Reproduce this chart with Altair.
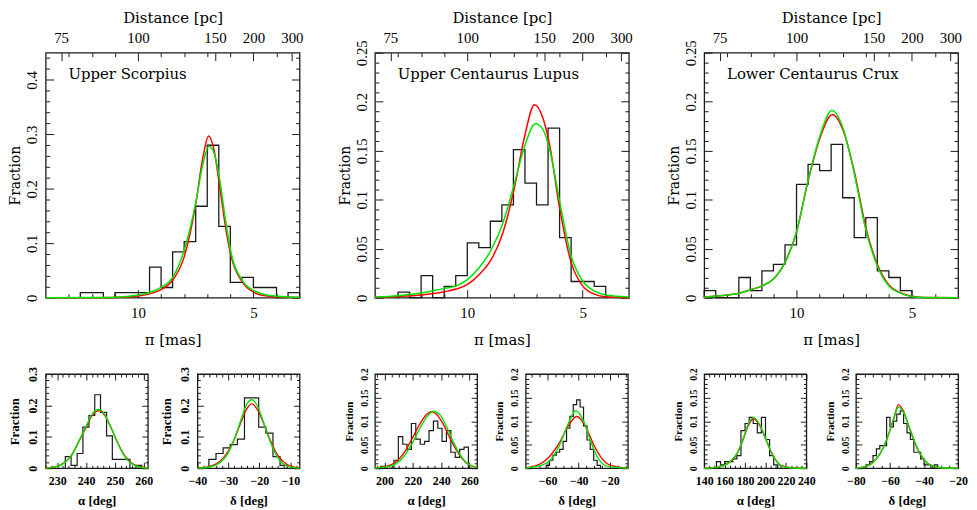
import altair as alt
import pandas as pd

SERIF = "DejaVu Serif"
NUM = "Liberation Serif"
RED = "#ff0000"
GREEN = "#00e400"
INK = "#1a1a1a"

# ---------------- shared axis values ----------------
DIST_PC = [75, 100, 150, 200, 300]
PLX_LABELS = [5, 10]
PLX_MINOR = [4, 6, 7, 8, 9, 11, 12, 13]

# ---------------- Upper Scorpius ----------------
US_NAME = "Upper Scorpius"
US_PLX_EDGE = [3.0, 3.5, 4.0, 4.5, 5.0, 5.5, 6.0, 6.5, 7.0, 7.5, 8.0, 8.5, 9.0, 9.5, 10.0, 10.5, 11.0, 11.5, 12.0, 12.5]
US_PLX_FRAC = [0.0093, 0.0, 0.0187, 0.0187, 0.0374, 0.028, 0.131, 0.280, 0.168, 0.103, 0.084, 0.0187, 0.056,
               0.0093, 0.0093, 0.0093, 0.0, 0.0093, 0.0093]
US_RED_PLX = [3.0, 3.46, 4.47, 4.97, 5.47, 5.97, 6.19, 6.48, 6.7, 6.94, 7.2, 7.5, 8.0, 8.5, 9.0, 9.5, 10.0, 11.0, 12.0, 14.0]
US_RED_FRAC = [0.0002, 0.0006, 0.0036, 0.0097, 0.028, 0.077, 0.125, 0.21, 0.27, 0.297, 0.255, 0.172, 0.075, 0.032,
               0.015, 0.007, 0.003, 0.0004, 0.0001, 0.0]
US_GRN_PLX = [3.0, 3.46, 4.47, 4.97, 5.47, 5.97, 6.19, 6.48, 6.7, 6.93, 7.2, 7.5, 8.0, 8.5, 9.0, 9.5, 10.0, 11.0, 12.0, 14.0]
US_GRN_FRAC = [0.0006, 0.0012, 0.0055, 0.0128, 0.031, 0.083, 0.137, 0.222, 0.265, 0.278, 0.243, 0.174, 0.087, 0.037,
               0.019, 0.0095, 0.005, 0.001, 0.0003, 0.0]

US_RA_EDGE = [232.8, 234.8, 236.9, 238.9, 241.0, 243.0, 245.0, 247.1, 249.1, 251.2, 253.2, 255.2, 257.3, 259.3]
US_RA_FRAC = [0.037, 0.009, 0.047, 0.131, 0.168, 0.234, 0.178, 0.103, 0.028, 0.028, 0.028, 0.0, 0.009]
US_RA_RED_X = [226, 229, 232, 235, 238, 240, 242, 244.3, 246.5, 248.5, 250.5, 253, 256, 259, 261.4]
US_RA_RED_F = [0.0008, 0.004, 0.015, 0.042, 0.094, 0.13, 0.167, 0.183, 0.168, 0.132, 0.09, 0.045, 0.015, 0.004, 0.001]
US_RA_GRN_X = [226, 229, 232, 235, 238, 240, 242, 244.3, 246.5, 248.5, 250.5, 253, 256, 259, 261.4]
US_RA_GRN_F = [0.0006, 0.0035, 0.014, 0.042, 0.096, 0.134, 0.171, 0.187, 0.171, 0.133, 0.089, 0.043, 0.013, 0.003,
               0.0008]

US_DE_EDGE = [-36.3, -34.0, -31.7, -29.4, -27.1, -24.8, -22.5, -20.2, -17.9, -15.6, -13.3, -11.0]
US_DE_FRAC = [0.028, 0.047, 0.065, 0.075, 0.093, 0.224, 0.224, 0.131, 0.112, 0.037, 0.009]
US_DE_RED_X = [-40, -36, -33, -30, -28, -26, -24, -22.4, -20.5, -18.5, -16.5, -14, -11, -7]
US_DE_RED_F = [0.001, 0.006, 0.02, 0.055, 0.095, 0.145, 0.19, 0.205, 0.185, 0.14, 0.09, 0.04, 0.012, 0.001]
US_DE_GRN_X = [-40, -36, -33, -30, -28, -26, -24, -22.4, -20.5, -18.5, -16.5, -14, -11, -7]
US_DE_GRN_F = [0.0005, 0.004, 0.016, 0.05, 0.095, 0.152, 0.205, 0.218, 0.196, 0.142, 0.085, 0.033, 0.007, 0.0005]

# ---------------- Upper Centaurus Lupus ----------------
UCL_NAME = "Upper Centaurus Lupus"
UCL_PLX_EDGE = [4.0, 4.5, 5.0, 5.5, 6.0, 6.5, 7.0, 7.5, 8.0, 8.5, 9.0, 9.5, 10.0, 10.5, 11.0, 11.5, 12.0, 12.5, 13.0]
UCL_PLX_FRAC = [0.0115, 0.0165, 0.0165, 0.0614, 0.173, 0.0948, 0.117, 0.151, 0.0948, 0.078, 0.051, 0.056,
                0.0226, 0.0115, 0.0, 0.0226, 0.0, 0.0057]
UCL_RED_PLX = [3.0, 3.99, 4.5, 5.0, 5.5, 6.01, 6.44, 6.73, 7.09, 7.52, 7.95, 8.46, 8.96, 9.47, 9.97, 10.48, 11.0,
               12.0, 13.0, 14.0]
UCL_RED_FRAC = [0.0, 0.001, 0.0037, 0.012, 0.036, 0.093, 0.157, 0.184, 0.197, 0.164, 0.113, 0.066, 0.039, 0.024,
                0.0138, 0.0088, 0.006, 0.0027, 0.0012, 0.0004]
UCL_GRN_PLX = [3.0, 3.99, 4.5, 5.0, 5.5, 6.01, 6.44, 6.73, 7.05, 7.52, 7.95, 8.46, 8.96, 9.47, 9.97, 10.48, 11.0,
               12.0, 13.0, 14.0]
UCL_GRN_FRAC = [0.0007, 0.0027, 0.007, 0.017, 0.0425, 0.1, 0.152, 0.172, 0.1775, 0.154, 0.117, 0.076, 0.049, 0.031,
                0.019, 0.012, 0.0095, 0.0047, 0.002, 0.0006]

UCL_RA_EDGE = [197.4, 200.5, 203.6, 206.7, 209.8, 212.9, 215.9, 219.0, 222.1, 225.2, 228.3, 231.4, 234.5, 237.6,
               240.6, 243.7, 246.8, 249.9, 253.0, 256.1, 259.2, 262.3]
UCL_RA_FRAC = [0.004, 0.0, 0.0, 0.017, 0.067, 0.051, 0.04, 0.095, 0.062, 0.051, 0.057, 0.08, 0.1, 0.085, 0.057,
               0.08, 0.034, 0.023, 0.04, 0.045, 0.0]
UCL_RA_RED_X = [193.3, 203.6, 208.7, 213.9, 219.0, 224.2, 229.3, 232.9, 236.5, 241.7, 246.8, 252.0, 257.1, 262.3,
                265.3]
UCL_RA_RED_F = [0.001, 0.006, 0.015, 0.033, 0.06, 0.09, 0.113, 0.12, 0.115, 0.092, 0.06, 0.032, 0.013, 0.004, 0.002]
UCL_RA_GRN_X = [193.3, 203.6, 208.7, 213.9, 219.0, 224.2, 229.3, 234.5, 238.6, 242.7, 247.9, 253.0, 258.1, 263.3,
                265.3]
UCL_RA_GRN_F = [0.001, 0.004, 0.011, 0.026, 0.05, 0.08, 0.107, 0.121, 0.115, 0.095, 0.06, 0.03, 0.011, 0.003, 0.002]

UCL_DE_EDGE = [-60.9, -58.7, -56.55, -54.4, -52.2, -50.0, -47.8, -45.65, -43.5, -41.3, -39.1, -36.9, -34.7, -32.6,
               -30.4, -28.2, -26.0]
UCL_DE_FRAC = [0.006, 0.017, 0.028, 0.034, 0.04, 0.057, 0.085, 0.11, 0.135, 0.145, 0.13, 0.09, 0.06, 0.04, 0.017,
               0.006]
UCL_DE_RED_X = [-74, -65.3, -58.7, -52.2, -46.7, -41.3, -35.8, -30.4, -24.9, -19.5, -8.5]
UCL_DE_RED_F = [0.001, 0.008, 0.025, 0.055, 0.09, 0.11, 0.09, 0.05, 0.02, 0.006, 0.0]
UCL_DE_GRN_X = [-74, -63.1, -57.6, -52.2, -46.7, -41.8, -36.9, -32.6, -28.2, -21.7, -8.5]
UCL_DE_GRN_F = [0.0005, 0.007, 0.02, 0.05, 0.095, 0.122, 0.1, 0.06, 0.025, 0.004, 0.0]

# ---------------- Lower Centaurus Crux ----------------
LCC_NAME = "Lower Centaurus Crux"
LCC_PLX_EDGE = [5.0, 5.5, 6.0, 6.5, 7.0, 7.5, 8.0, 8.5, 9.0, 9.5, 10.0, 10.5, 11.0, 11.5, 12.0, 12.5, 13.0, 13.5, 14.0]
LCC_PLX_FRAC = [0.0071, 0.0206, 0.0273, 0.0816, 0.0614, 0.102, 0.1565, 0.1296, 0.136, 0.1157, 0.054, 0.034,
                0.0273, 0.0071, 0.0206, 0.0, 0.0, 0.0071]
LCC_RED_PLX = [3.0, 4.5, 5.0, 5.5, 6.0, 6.5, 7.0, 7.5, 8.0, 8.45, 9.0, 9.5, 10.0, 10.5, 11.0, 11.5, 12.0, 12.5, 13.0, 14.0]
LCC_RED_FRAC = [0.0, 0.0003, 0.0014, 0.005, 0.013, 0.034, 0.072, 0.129, 0.172, 0.187, 0.162, 0.119, 0.067, 0.036,
                0.019, 0.012, 0.008, 0.0045, 0.0027, 0.0005]
LCC_GRN_PLX = [3.0, 4.5, 5.0, 5.5, 6.0, 6.5, 7.0, 7.5, 8.0, 8.47, 9.0, 9.5, 10.0, 10.5, 11.0, 11.5, 12.0, 12.5, 13.0, 14.0]
LCC_GRN_FRAC = [0.0, 0.0003, 0.0013, 0.0047, 0.012, 0.0324, 0.0695, 0.127, 0.174, 0.191, 0.164, 0.12, 0.067, 0.036,
                0.019, 0.012, 0.008, 0.0045, 0.0027, 0.0005]

LCC_RA_EDGE = [152, 156, 160, 164, 168, 172, 176, 180, 184, 188, 192, 196, 200, 204, 208, 212]
LCC_RA_FRAC = [0.014, 0.007, 0.014, 0.014, 0.02, 0.027, 0.08, 0.095, 0.108, 0.095, 0.075, 0.108, 0.061, 0.027,
               0.007]
LCC_RA_RED_X = [140, 155, 165, 172, 178, 183, 188.5, 194, 200, 205, 210, 215, 225, 240]
LCC_RA_RED_F = [0.0, 0.003, 0.013, 0.03, 0.06, 0.09, 0.105, 0.092, 0.063, 0.037, 0.018, 0.006, 0.001, 0.0]
LCC_RA_GRN_X = [140, 155, 165, 172, 178, 183, 188.5, 194, 200, 205, 210, 215, 225, 240]
LCC_RA_GRN_F = [0.0, 0.003, 0.013, 0.031, 0.062, 0.093, 0.108, 0.094, 0.064, 0.037, 0.017, 0.005, 0.001, 0.0]

LCC_DE_EDGE = [-74, -72, -70, -68, -66, -64, -62, -60, -58, -56, -54, -52, -50, -48, -46, -44, -42, -40, -38, -36,
               -34, -32]
LCC_DE_FRAC = [0.007, 0.014, 0.027, 0.041, 0.048, 0.048, 0.108, 0.088, 0.1, 0.115, 0.122, 0.095, 0.075, 0.061, 0.034,
               0.034, 0.02, 0.007, 0.007, 0.0, 0.007]
LCC_DE_RED_X = [-80, -74, -70, -66, -62, -58, -55, -52, -48, -44, -40, -36, -30, -20]
LCC_DE_RED_F = [0.0, 0.004, 0.013, 0.03, 0.06, 0.103, 0.135, 0.12, 0.08, 0.042, 0.018, 0.006, 0.001, 0.0]
LCC_DE_GRN_X = [-80, -74, -70, -66, -62, -58, -55, -52, -48, -44, -40, -36, -30, -20]
LCC_DE_GRN_F = [0.0, 0.004, 0.012, 0.03, 0.06, 0.103, 0.13, 0.118, 0.08, 0.043, 0.018, 0.006, 0.001, 0.0]


def step_df(edges, fracs):
    xs = [edges[0]] + list(edges[:-1]) + [edges[-1]]
    fs = [0.0] + list(fracs) + [0.0]
    return pd.DataFrame({"x": xs, "f": fs, "i": list(range(len(xs)))})


def tick_size(test, major, minor):
    return {"condition": {"test": test, "value": major}, "value": minor}


def mult_test(step):
    return f"abs(datum.value/{step} - round(datum.value/{step})) < 1e-6"


def yticks(ymax, step):
    n = int(round(ymax / step))
    return [round(k * step, 5) for k in range(n + 1)]


def main_panel(name, edges, fracs, rp, rf, gp, gf, ymax, ylabels, ystep, ymajor):
    W, H = 256, 247
    xs = alt.Scale(domain=[3, 14], reverse=True, nice=False, zero=False)
    ys = alt.Scale(domain=[0, ymax], nice=False, zero=False)
    ymin = yticks(ymax, ystep)
    plx_top = [1000.0 / d for d in DIST_PC]
    dist_test = "indexof([" + ",".join(str(d) for d in DIST_PC) + "], round(1000/datum.value)) >= 0"

    hist = alt.Chart(step_df(edges, fracs)).mark_line(
        interpolate="step-after", color=INK, strokeWidth=1.3
    ).encode(
        x=alt.X("x:Q", scale=xs, axis=alt.Axis(
            orient="bottom", values=PLX_LABELS, format="d", ticks=False, tickSize=0, domain=False, grid=False,
            labelFont=NUM, labelFontSize=15, labelPadding=8, labelFlush=False, labelOverlap=False,
            title="π [mas]", titleFont=SERIF, titleFontSize=15, titleFontWeight="normal", titlePadding=12)),
        y=alt.Y("f:Q", scale=ys, axis=alt.Axis(
            orient="left", values=ylabels, format=".2~f", labelAngle=270, labelAlign="center",
            labelBaseline="bottom", ticks=False, tickSize=0, domain=False, grid=False,
            labelFont=NUM, labelFontSize=15, labelPadding=6, labelOverlap=False,
            title="Fraction", titleFont=SERIF, titleFontSize=14, titleFontWeight="normal", titlePadding=2)),
        order=alt.Order("i:Q"),
    )
    red = alt.Chart(pd.DataFrame({"x": rp, "f": rf})).mark_line(
        interpolate="monotone", color=RED, strokeWidth=1.5
    ).encode(
        x=alt.X("x:Q", scale=xs, axis=alt.Axis(
            orient="top", offset=-H, values=PLX_LABELS + PLX_MINOR, labels=False, domain=False, grid=False,
            title=None, tickColor=INK, tickWidth=1, tickSize=tick_size(mult_test(5), 8, 4))),
        y=alt.Y("f:Q", scale=ys, axis=alt.Axis(
            orient="right", offset=-W, values=ymin, labels=False, domain=False, grid=False,
            title=None, tickColor=INK, tickWidth=1, tickSize=tick_size(mult_test(ymajor), 8, 4))),
    )
    green = alt.Chart(pd.DataFrame({"x": gp, "f": gf})).mark_line(
        interpolate="monotone", color=GREEN, strokeWidth=1.5
    ).encode(
        x=alt.X("x:Q", scale=xs, axis=alt.Axis(
            orient="top", values=plx_top, labelExpr="format(round(1000/datum.value), 'd')",
            ticks=False, tickSize=0, domain=False, grid=False, labelFont=NUM, labelFontSize=15,
            labelPadding=7, labelFlush=False, labelOverlap=False,
            title="Distance [pc]", titleFont=SERIF, titleFontSize=15, titleFontWeight="normal", titlePadding=5)),
        y=alt.Y("f:Q", scale=ys, axis=alt.Axis(
            orient="left", offset=-W, values=ymin, labels=False, domain=False, grid=False,
            title=None, tickColor=INK, tickWidth=1, tickSize=tick_size(mult_test(ymajor), 8, 4))),
    )
    top_ticks = alt.Chart(pd.DataFrame({"x": gp, "f": gf})).mark_line(opacity=0).encode(
        x=alt.X("x:Q", scale=xs, axis=alt.Axis(
            orient="bottom", offset=-H, values=PLX_MINOR + plx_top, labels=False, domain=False, grid=False,
            title=None, tickColor=INK, tickWidth=1, tickSize=tick_size(dist_test, 8, 4))),
        y=alt.Y("f:Q", scale=ys, axis=None),
    )
    label = alt.Chart(pd.DataFrame({"t": [name]})).mark_text(
        align="left", baseline="middle", font=SERIF, fontSize=15, color="black"
    ).encode(x=alt.value(23), y=alt.value(21), text="t:N")

    return alt.layer(hist, red, green, top_ticks, label).resolve_axis(
        x="independent", y="independent").properties(width=W, height=H)


def small_panel(edges, fracs, rx, rf, gx, gf, xdom, xlabels, xstep, xmajor, xtitle,
                ymax, ylabels, ystep, ymajor, yfs):
    W, H = 103, 95
    xs = alt.Scale(domain=xdom, nice=False, zero=False)
    ys = alt.Scale(domain=[0, ymax], nice=False, zero=False)
    ymin = yticks(ymax, ystep)
    n0 = int(round(xdom[0] / xstep))
    n1 = int(round(xdom[1] / xstep))
    xmin = [k * xstep for k in range(n0, n1 + 1) if xdom[0] <= k * xstep <= xdom[1]]

    hist = alt.Chart(step_df(edges, fracs)).mark_line(
        interpolate="step-after", color=INK, strokeWidth=1.2
    ).encode(
        x=alt.X("x:Q", scale=xs, axis=alt.Axis(
            orient="bottom", values=xlabels, format="d", ticks=False, tickSize=0, domain=False, grid=False,
            labelFont=NUM, labelFontSize=12, labelFontWeight="bold", labelPadding=7, labelFlush=False,
            labelOverlap=False, title=xtitle, titleFont=NUM, titleFontSize=13, titleFontWeight="bold",
            titlePadding=9)),
        y=alt.Y("f:Q", scale=ys, axis=alt.Axis(
            orient="left", values=ylabels, format=".2~f", labelAngle=270, labelAlign="center",
            labelBaseline="bottom", ticks=False, tickSize=0, domain=False, grid=False,
            labelFont=NUM, labelFontSize=yfs, labelFontWeight="bold", labelPadding=6, labelOverlap=False,
            title="Fraction", titleFont=NUM, titleFontSize=yfs + 1, titleFontWeight="bold", titlePadding=5)),
        order=alt.Order("i:Q"),
    )
    red = alt.Chart(pd.DataFrame({"x": rx, "f": rf})).mark_line(
        interpolate="monotone", color=RED, strokeWidth=1.4
    ).encode(
        x=alt.X("x:Q", scale=xs, axis=alt.Axis(
            orient="top", offset=-H, values=xmin, labels=False, domain=False, grid=False, title=None,
            tickColor=INK, tickWidth=1, tickSize=tick_size(mult_test(xmajor), 6, 3))),
        y=alt.Y("f:Q", scale=ys, axis=alt.Axis(
            orient="right", offset=-W, values=ymin, labels=False, domain=False, grid=False, title=None,
            tickColor=INK, tickWidth=1, tickSize=tick_size(mult_test(ymajor), 6, 3))),
    )
    green = alt.Chart(pd.DataFrame({"x": gx, "f": gf})).mark_line(
        interpolate="monotone", color=GREEN, strokeWidth=1.4
    ).encode(
        x=alt.X("x:Q", scale=xs, axis=alt.Axis(
            orient="bottom", offset=-H, values=xmin, labels=False, domain=False, grid=False, title=None,
            tickColor=INK, tickWidth=1, tickSize=tick_size(mult_test(xmajor), 6, 3))),
        y=alt.Y("f:Q", scale=ys, axis=alt.Axis(
            orient="left", offset=-W, values=ymin, labels=False, domain=False, grid=False, title=None,
            tickColor=INK, tickWidth=1, tickSize=tick_size(mult_test(ymajor), 6, 3))),
    )
    return alt.layer(hist, red, green).resolve_axis(
        x="independent", y="independent").properties(width=W, height=H)


def spacer(w, h):
    # empty, invisible cell that only reserves horizontal room in the grid
    return alt.Chart(pd.DataFrame({"v": [0]})).mark_rect(opacity=0).encode(
        x=alt.value(0), x2=alt.value(w), y=alt.value(0), y2=alt.value(1)
    ).properties(width=w, height=h, view=alt.ViewBackground(strokeOpacity=0))


US_Y = [0, 0.1, 0.2, 0.3, 0.4]
FINE_Y = [0, 0.05, 0.1, 0.15, 0.2, 0.25]
SMALL_FINE_Y = [0, 0.05, 0.1, 0.15, 0.2]

us_main = main_panel(US_NAME, US_PLX_EDGE, US_PLX_FRAC, US_RED_PLX, US_RED_FRAC, US_GRN_PLX, US_GRN_FRAC,
                     0.45, US_Y, 0.02, 0.1)
ucl_main = main_panel(UCL_NAME, UCL_PLX_EDGE, UCL_PLX_FRAC, UCL_RED_PLX, UCL_RED_FRAC, UCL_GRN_PLX, UCL_GRN_FRAC,
                      0.25, FINE_Y, 0.01, 0.05)
lcc_main = main_panel(LCC_NAME, LCC_PLX_EDGE, LCC_PLX_FRAC, LCC_RED_PLX, LCC_RED_FRAC, LCC_GRN_PLX, LCC_GRN_FRAC,
                      0.25, FINE_Y, 0.01, 0.05)

us_ra = small_panel(US_RA_EDGE, US_RA_FRAC, US_RA_RED_X, US_RA_RED_F, US_RA_GRN_X, US_RA_GRN_F,
                    [226, 261.4], [230, 240, 250, 260], 2, 10, "α [deg]", 0.3, [0, 0.1, 0.2, 0.3], 0.02, 0.1, 12)
us_de = small_panel(US_DE_EDGE, US_DE_FRAC, US_DE_RED_X, US_DE_RED_F, US_DE_GRN_X, US_DE_GRN_F,
                    [-40, -7], [-40, -30, -20, -10], 2, 10, "δ [deg]", 0.3, [0, 0.1, 0.2, 0.3], 0.02, 0.1, 12)
ucl_ra = small_panel(UCL_RA_EDGE, UCL_RA_FRAC, UCL_RA_RED_X, UCL_RA_RED_F, UCL_RA_GRN_X, UCL_RA_GRN_F,
                     [193.3, 265.3], [200, 220, 240, 260], 5, 20, "α [deg]", 0.2, SMALL_FINE_Y, 0.01, 0.05, 10)
ucl_de = small_panel(UCL_DE_EDGE, UCL_DE_FRAC, UCL_DE_RED_X, UCL_DE_RED_F, UCL_DE_GRN_X, UCL_DE_GRN_F,
                     [-74, -8.5], [-60, -40, -20], 5, 20, "δ [deg]", 0.2, SMALL_FINE_Y, 0.01, 0.05, 10)
lcc_ra = small_panel(LCC_RA_EDGE, LCC_RA_FRAC, LCC_RA_RED_X, LCC_RA_RED_F, LCC_RA_GRN_X, LCC_RA_GRN_F,
                     [140, 240], [140, 160, 180, 200, 220, 240], 5, 20, "α [deg]", 0.2, SMALL_FINE_Y, 0.01, 0.05, 10)
lcc_de = small_panel(LCC_DE_EDGE, LCC_DE_FRAC, LCC_DE_RED_X, LCC_DE_RED_F, LCC_DE_GRN_X, LCC_DE_GRN_F,
                     [-80, -20], [-80, -60, -40, -20], 5, 20, "δ [deg]", 0.2, SMALL_FINE_Y, 0.01, 0.05, 10)

LEFT = 38
top_row = alt.hconcat(
    spacer(LEFT, 247), us_main, spacer(76, 247), ucl_main, spacer(76, 247), lcc_main,
    spacing=0, bounds="flush",
)
bottom_row = alt.hconcat(
    spacer(LEFT, 95), us_ra, spacer(50, 95), us_de, spacer(76, 95), ucl_ra, spacer(49, 95), ucl_de,
    spacer(77, 95), lcc_ra, spacer(50, 95), lcc_de,
    spacing=0, bounds="flush",
)

chart = alt.vconcat(top_row, bottom_row, spacing=17).properties(
    padding={"left": 0, "top": 0, "right": 0, "bottom": 0}
).configure_view(
    stroke=INK, strokeWidth=1.3
).configure_axis(labelColor="black", titleColor="black")

chart.save("out.html", embed_options={"renderer": "svg", "actions": False})
